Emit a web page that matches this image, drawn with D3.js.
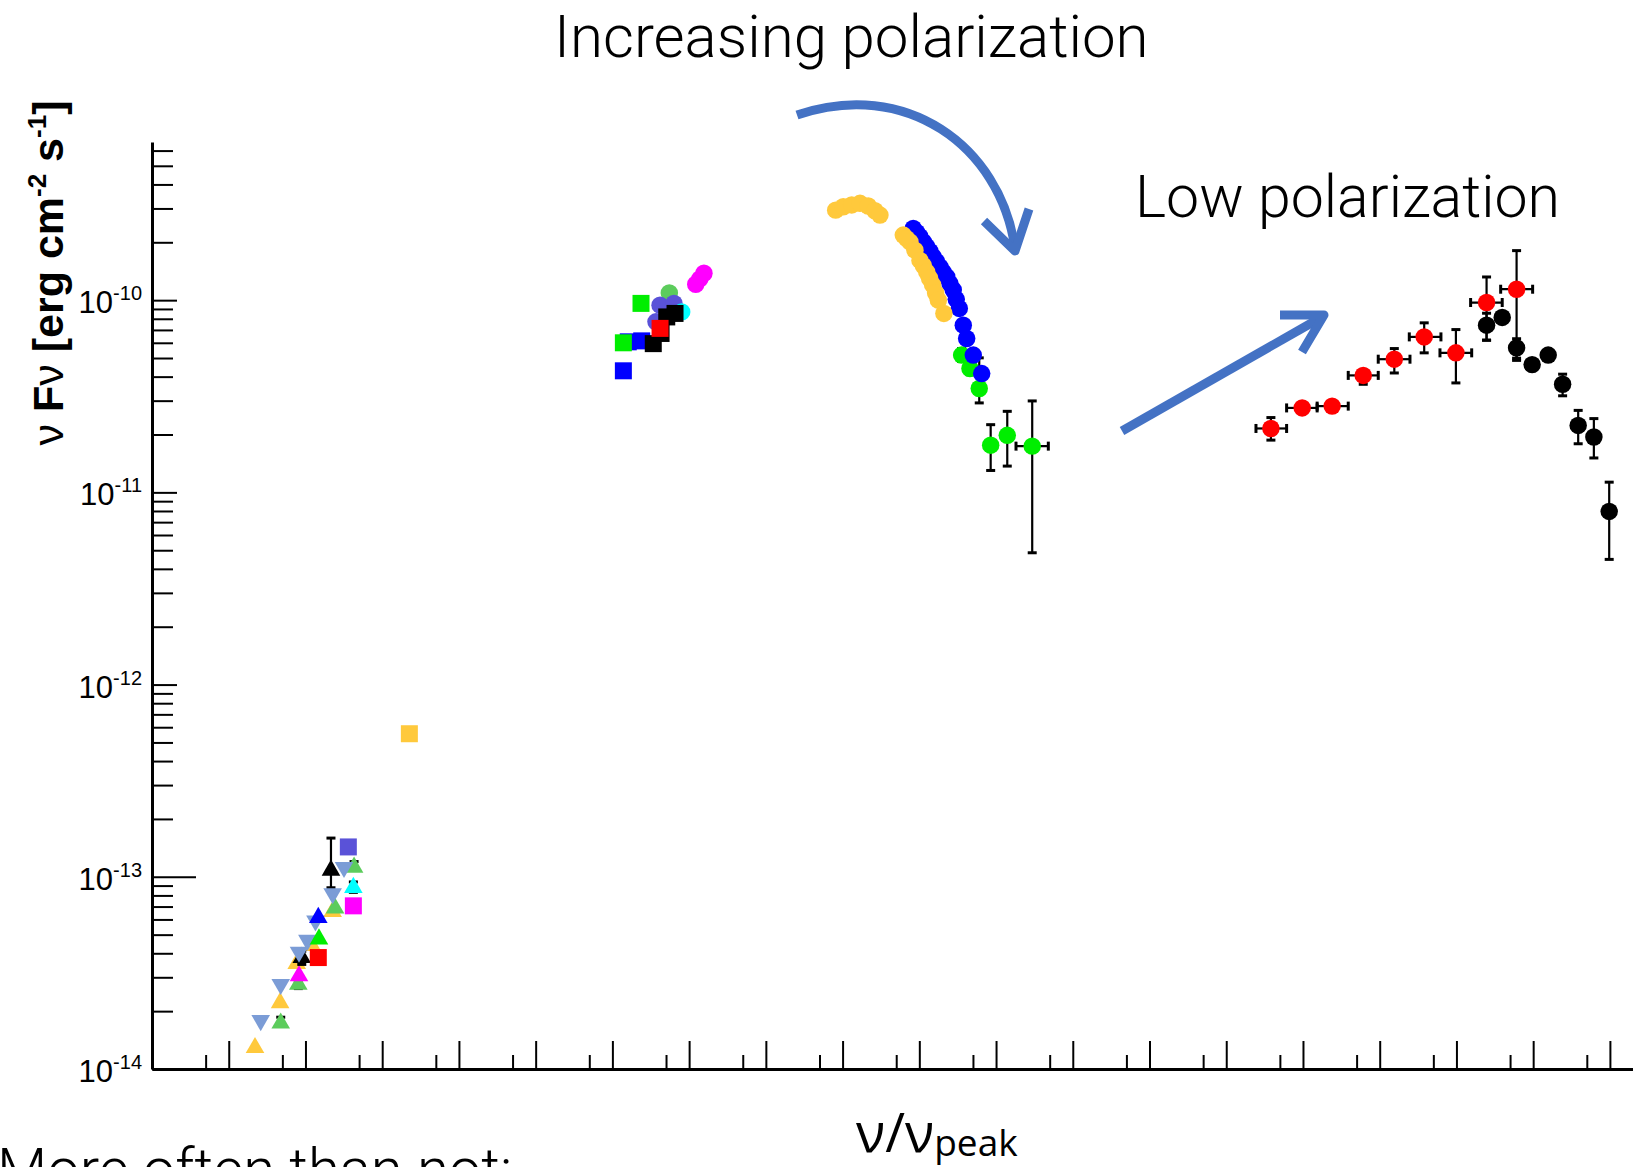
<!DOCTYPE html>
<html>
<head>
<meta charset="utf-8">
<script src="https://cdn.jsdelivr.net/npm/d3@7"></script>
<style>
  html, body { margin: 0; background: #fff; }
  svg { display: block; }
</style>
</head>
<body>
<svg id="chart" width="1633" height="1167"></svg>
<script>
// rows: [nu/nu_peak, nuFnu, yLo, yHi, xLo, xHi] (errors optional)

// radio (triangles + squares, lower left)
const radioYellowTri = [[2.20e-8, 1.29e-14], [4.67e-8, 2.21e-14], [7.69e-8, 3.53e-14], [1.21e-7, 4.38e-14], [2.26e-7, 6.59e-14]];
const radioGreenTri = [[4.76e-8, 1.73e-14, 1.70e-14, 1.86e-14], [8.07e-8, 2.76e-14, 2.62e-14, 2.90e-14], [2.43e-7, 6.87e-14], [4.30e-7, 1.12e-13, 1.08e-13, 1.20e-13]];
const radioSteelDown = [[2.61e-8, 1.79e-14], [4.76e-8, 2.76e-14], [8.24e-8, 4.06e-14], [1.06e-7, 4.68e-14], [1.35e-7, 5.90e-14], [2.26e-7, 8.18e-14], [3.18e-7, 1.12e-13]];
const radioMagentaTri = [[8.24e-8, 3.05e-14]];
const radioBlackTri = [[8.95e-8, 3.80e-14, 3.50e-14, 4.10e-14], [2.15e-7, 1.08e-13, 8.77e-14, 1.59e-13]];
const radioLimeTri = [[1.50e-7, 4.74e-14]];
const radioBlueTri = [[1.47e-7, 6.14e-14]];
const radioCyanTri = [[4.21e-7, 8.79e-14, 8.30e-14, 9.40e-14]];
const radioRedSq = [[1.47e-7, 3.80e-14]];
const radioMagentaSq = [[4.21e-7, 7.06e-14, 6.60e-14, 7.50e-14]];
const radioSlateSq = [[3.62e-7, 1.43e-13]];
const mmYellowSq = [[2.26e-6, 5.55e-13]];

// IR / optical cluster
const optBlueSq = [[1.39e-3, 4.29e-11], [1.61e-3, 6.07e-11], [2.41e-3, 6.14e-11]];
const optLimeSq = [[1.39e-3, 6.00e-11], [2.36e-3, 9.62e-11]];
const optBlackSq = [[3.41e-3, 5.94e-11], [4.31e-3, 6.71e-11], [5.11e-3, 8.18e-11], [6.55e-3, 8.53e-11]];
const optRedSq = [[4.18e-3, 7.13e-11]];
const optGreenCirc = [[5.52e-3, 1.09e-10]];
const optSlateCirc = [[3.70e-3, 7.71e-11], [4.18e-3, 9.42e-11], [6.35e-3, 9.62e-11]];
const optCyanCirc = [[8.0e-3, 8.69e-11]];
const optMagentaCirc = [[1.22e-2, 1.21e-10], [1.38e-2, 1.29e-10], [1.56e-2, 1.38e-10]];

// synchrotron peak / fall-off
const syncLime = [[35.6, 5.18e-11, 4.8e-11, 5.6e-11], [45.7, 4.41e-11, 4.1e-11, 4.8e-11], [60.4, 3.47e-11, 2.92e-11, 5.01e-11],
  [85.1, 1.76e-11, 1.30e-11, 2.25e-11], [140, 1.98e-11, 1.37e-11, 2.64e-11], [296, 1.74e-11, 4.85e-12, 2.99e-11, 182, 480]];
const syncBlue = [[8.34, 2.36e-10], [9.25, 2.25e-10], [10.2, 2.14e-10], [11.3, 2.01e-10], [12.5, 1.90e-10], [13.8, 1.79e-10],
  [15.2, 1.68e-10], [16.8, 1.585e-10], [18.6, 1.49e-10], [20.5, 1.40e-10], [22.8, 1.32e-10], [25.1, 1.22e-10], [27.7, 1.13e-10],
  [30.3, 1.01e-10], [33.2, 9.06e-11], [37.4, 7.41e-11], [41.4, 6.32e-11], [50.5, 5.18e-11], [65.0, 4.15e-11]];
const syncYellow = [[0.813, 2.94e-10], [1.02, 3.06e-10], [1.315, 3.13e-10], [1.687, 3.19e-10], [2.16, 3.09e-10], [2.64, 2.92e-10],
  [3.07, 2.77e-10], [6.18, 2.18e-10], [6.84, 2.09e-10], [7.55, 2.01e-10], [8.77, 1.82e-10], [10.2, 1.61e-10], [11.3, 1.51e-10],
  [12.5, 1.40e-10], [13.6, 1.30e-10], [14.9, 1.20e-10], [16.3, 1.09e-10], [17.7, 1.00e-10], [20.9, 8.53e-11]];

// high-energy hump
const xrayRed = [[3.82e5, 2.15e-11, 1.87e-11, 2.45e-11, 2.44e5, 6.12e5], [9.77e5, 2.75e-11, 2.62e-11, 2.88e-11, 6.12e5, 1.53e6],
  [2.40e6, 2.81e-11, 2.68e-11, 2.94e-11, 1.53e6, 3.89e6], [6.10e6, 4.06e-11, 3.65e-11, 4.32e-11, 3.89e6, 9.57e6],
  [1.55e7, 4.93e-11, 4.18e-11, 5.60e-11, 9.57e6, 2.48e7], [3.80e7, 6.44e-11, 5.32e-11, 7.62e-11, 2.43e7, 6.28e7],
  [9.84e7, 5.32e-11, 3.71e-11, 7.03e-11, 6.10e7, 1.58e8], [2.47e8, 9.72e-11, 6.19e-11, 1.32e-10, 1.53e8, 3.95e8],
  [6.08e8, 1.14e-10, 4.99e-11, 1.81e-10, 3.77e8, 9.84e8]];
const gammaBlack = [[2.47e8, 7.41e-11, 6.19e-11, 8.55e-11], [3.95e8, 8.13e-11], [6.08e8, 5.65e-11, 4.86e-11, 6.30e-11],
  [9.70e8, 4.62e-11], [1.57e9, 5.18e-11], [2.42e9, 3.65e-11, 3.18e-11, 4.12e-11], [3.86e9, 2.23e-11, 1.79e-11, 2.67e-11],
  [6.18e9, 1.94e-11, 1.51e-11, 2.42e-11], [9.79e9, 7.96e-12, 4.48e-12, 1.13e-11]];

const yTickLabels = [[1e-10, '-10'], [1e-11, '-11'], [1e-12, '-12'], [1e-13, '-13'], [1e-14, '-14']];

const C = {
  yellow: '#ffc93c', green: '#5ccc5c', lime: '#00ee00', steel: '#7b9cd6', magenta: '#ff00ff',
  blue: '#0000ff', black: '#000000', cyan: '#00ffff', red: '#ff0000', slate: '#5a52d8', arrow: '#4472c4'
};

const series = [
  { pts: radioYellowTri, shape: 'tri', color: C.yellow },
  { pts: radioGreenTri, shape: 'tri', color: C.green },
  { pts: radioMagentaTri, shape: 'tri', color: C.magenta },
  { pts: radioBlackTri, shape: 'tri', color: C.black },
  { pts: radioSteelDown, shape: 'down', color: C.steel },
  { pts: radioLimeTri, shape: 'tri', color: C.lime },
  { pts: radioBlueTri, shape: 'tri', color: C.blue },
  { pts: radioCyanTri, shape: 'tri', color: C.cyan },
  { pts: radioRedSq, shape: 'sq', color: C.red },
  { pts: radioMagentaSq, shape: 'sq', color: C.magenta },
  { pts: radioSlateSq, shape: 'sq', color: C.slate },
  { pts: mmYellowSq, shape: 'sq', color: C.yellow },
  { pts: optBlueSq, shape: 'sq', color: C.blue },
  { pts: optLimeSq, shape: 'sq', color: C.lime },
  { pts: optGreenCirc, shape: 'circ', color: C.green },
  { pts: optSlateCirc, shape: 'circ', color: C.slate },
  { pts: optCyanCirc, shape: 'circ', color: C.cyan },
  { pts: optBlackSq, shape: 'sq', color: C.black },
  { pts: optRedSq, shape: 'sq', color: C.red },
  { pts: optMagentaCirc, shape: 'circ', color: C.magenta },
  { pts: syncLime, shape: 'circ', color: C.lime },
  { pts: syncBlue, shape: 'circ', color: C.blue },
  { pts: syncYellow, shape: 'circ', color: C.yellow },
  { pts: gammaBlack, shape: 'circ', color: C.black },
  { pts: xrayRed, shape: 'circ', color: C.red }
];

const svg = d3.select('#chart');
svg.append('rect').attr('width', 1633).attr('height', 1167).attr('fill', '#fff');

const x = d3.scaleLog().domain([1e-9, 2e10]).range([152, 1633]);
const y = d3.scaleLog().domain([1e-14, 6.65e-10]).range([1069, 142]);

const mant = v => Math.round(v / Math.pow(10, Math.floor(Math.log10(v) + 1e-9)));

// y axis, ticks pointing inward
const yAxis = svg.append('g')
  .attr('transform', `translate(${x.range()[0]},0)`)
  .call(d3.axisLeft(y).ticks(30).tickSize(-21).tickSizeOuter(0).tickFormat(''));
yAxis.select('.domain').attr('stroke-width', 3);
yAxis.selectAll('.tick line')
  .attr('stroke-width', 2)
  .attr('x2', d => Math.abs(d - 1e-13) < 1e-16 ? 44 : (mant(d) === 1 ? 25 : 21));

yAxis.selectAll('.ylab')
  .data(yTickLabels)
  .join('text')
  .attr('class', 'ylab')
  .attr('x', -10)
  .attr('y', d => y(d[0]) + 13)
  .attr('text-anchor', 'end')
  .attr('font-family', 'Liberation Sans, Arial, sans-serif')
  .attr('font-size', 31)
  .attr('fill', '#000')
  .each(function (d) {
    const t = d3.select(this);
    t.append('tspan').text('10');
    t.append('tspan').attr('dy', -13).attr('font-size', 20).text(d[1]);
  });

// x axis: decades tall, 5x10^n short
const xTicks = x.ticks(40).filter(v => mant(v) === 1 || mant(v) === 5);
const xAxis = svg.append('g')
  .attr('transform', `translate(0,${y.range()[0]})`)
  .call(d3.axisBottom(x).tickValues(xTicks).tickSize(-28).tickSizeOuter(0).tickFormat(''));
xAxis.select('.domain').attr('stroke-width', 3);
xAxis.selectAll('.tick line')
  .attr('stroke-width', 2)
  .attr('y2', d => mant(d) === 1 ? -28 : -14);

// markers + error bars
const plot = svg.append('g');
const symbols = {
  tri: d3.symbol().type(d3.symbolTriangle).size(150)(),
  down: d3.symbol().type(d3.symbolTriangle).size(150)(),
  sq: d3.symbol().type(d3.symbolSquare).size(289)(),
  circ: d3.symbol().type(d3.symbolCircle).size(240)()
};

function errorBars(g, pts) {
  const cap = 4.5;
  pts.filter(p => p.length >= 4).forEach(p => {
    const cx = x(p[0]), y0 = y(p[2]), y1 = y(p[3]);
    g.append('line').attr('x1', cx).attr('x2', cx).attr('y1', y0).attr('y2', y1)
      .attr('stroke', '#000').attr('stroke-width', 2.2);
    [y0, y1].forEach(v => g.append('line').attr('x1', cx - cap).attr('x2', cx + cap).attr('y1', v).attr('y2', v)
      .attr('stroke', '#000').attr('stroke-width', 3));
  });
  pts.filter(p => p.length >= 6).forEach(p => {
    const cy = y(p[1]), x0 = x(p[4]), x1 = x(p[5]);
    g.append('line').attr('x1', x0).attr('x2', x1).attr('y1', cy).attr('y2', cy)
      .attr('stroke', '#000').attr('stroke-width', 2.2);
    [x0, x1].forEach(v => g.append('line').attr('x1', v).attr('x2', v).attr('y1', cy - cap).attr('y2', cy + cap)
      .attr('stroke', '#000').attr('stroke-width', 3));
  });
}

series.forEach(s => {
  const g = plot.append('g');
  errorBars(g, s.pts);
  g.selectAll('path')
    .data(s.pts)
    .join('path')
    .attr('d', symbols[s.shape])
    .attr('transform', d => `translate(${x(d[0])},${y(d[1])})` + (s.shape === 'down' ? ' rotate(180)' : ''))
    .attr('fill', s.color);
});

// annotation arrows
const arrows = svg.append('g')
  .attr('fill', 'none')
  .attr('stroke', C.arrow)
  .attr('stroke-width', 9);
arrows.append('path').attr('d', 'M797,115 C905,78 1000,145 1015,248');
arrows.append('path').attr('d', 'M984,221 L1015,251 L1029,209').attr('stroke-linejoin', 'round');
arrows.append('path').attr('d', 'M1122,431 L1322,317');
arrows.append('path').attr('d', 'M1280,315 L1324,315 L1302,352').attr('stroke-linejoin', 'round');

// texts
const lightFont = 'Roboto, "Liberation Sans", sans-serif';
svg.append('text')
  .attr('x', 554).attr('y', 57)
  .attr('font-family', lightFont).attr('font-weight', 300).attr('font-size', 60)
  .text('Increasing polarization');
svg.append('text')
  .attr('x', 1135).attr('y', 217)
  .attr('font-family', lightFont).attr('font-weight', 300).attr('font-size', 59)
  .text('Low polarization');
svg.append('text')
  .attr('x', -3).attr('y', 1189)
  .attr('font-family', lightFont).attr('font-weight', 300).attr('font-size', 58)
  .text('More often than not:');

const xl = svg.append('text')
  .attr('x', 856).attr('y', 1152)
  .attr('font-family', '"Open Sans", sans-serif')
  .attr('font-size', 54);
xl.append('tspan').text('ν/ν');
xl.append('tspan').attr('font-size', 37).attr('dy', 4).text('peak');

const yl = svg.append('text')
  .attr('transform', 'translate(63,273) rotate(-90)')
  .attr('text-anchor', 'middle')
  .attr('font-family', '"Liberation Sans", Arial, sans-serif')
  .attr('font-weight', 'bold')
  .attr('font-size', 43);
yl.append('tspan').attr('font-weight', 'normal').text('ν ');
yl.append('tspan').text('F');
yl.append('tspan').attr('font-weight', 'normal').text('ν');
yl.append('tspan').text(' [erg cm');
yl.append('tspan').attr('font-size', 26).attr('dy', -17).text('-2');
yl.append('tspan').attr('dy', 17).text(' s');
yl.append('tspan').attr('font-size', 26).attr('dy', -17).text('-1');
yl.append('tspan').attr('dy', 17).text(']');
</script>
</body>
</html>
